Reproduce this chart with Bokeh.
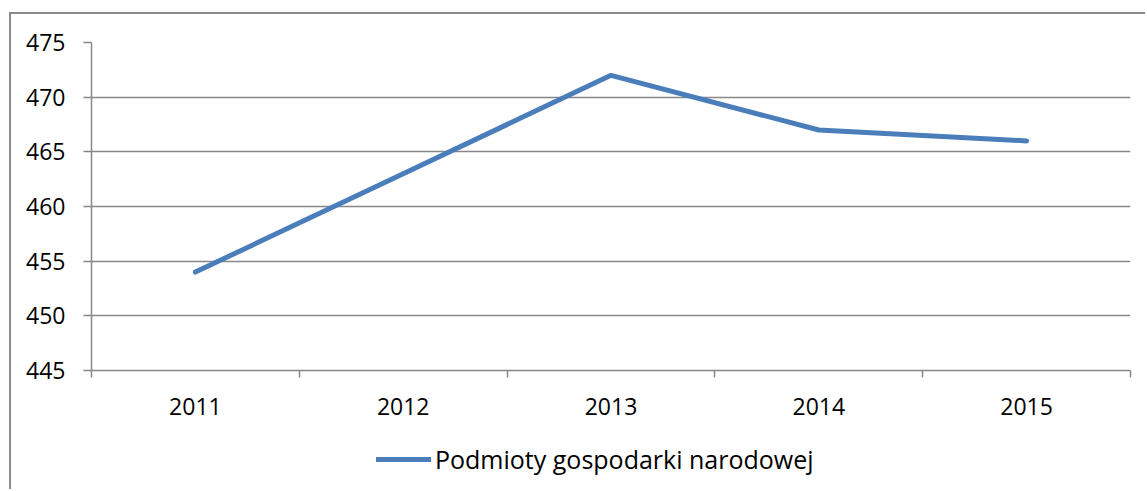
from bokeh.plotting import figure
from bokeh.layouts import column
from bokeh.models import FixedTicker, Legend, LegendItem, Range1d
from bokeh.embed import file_html
from bokeh.resources import INLINE

years = ["2011", "2012", "2013", "2014", "2015"]
values = [454, 463, 472, 467, 466]
series_name = "Podmioty gospodarki narodowej"
y_ticks = [445, 450, 455, 460, 465, 470, 475]

FONT = "Open Sans"
FS = "23px"
GRID = "#878787"
LINE = "#4a7ebb"
xs = list(range(1, len(years) + 1))

W = 1134
p = figure(width=W, height=420, output_backend="svg", toolbar_location=None,
           x_range=Range1d(0.5, len(years) + 0.5), y_range=Range1d(445, 475),
           min_border_left=80, min_border_top=28, min_border_right=15, min_border_bottom=64)
p.outline_line_color = None
p.background_fill_color = "white"
p.border_fill_color = "white"

p.line(xs, values, line_color=LINE, line_width=5, line_cap="round", line_join="round")

# x axis
p.xaxis.ticker = FixedTicker(ticks=xs, minor_ticks=[x - 0.5 for x in xs] + [len(xs) + 0.5])
p.xaxis.major_label_overrides = {x: y for x, y in zip(xs, years)}
p.xaxis.major_tick_line_color = None
p.xaxis.minor_tick_out = 7
p.xaxis.minor_tick_in = 0
p.xaxis.minor_tick_line_color = GRID
p.xaxis.minor_tick_line_width = 1.5
p.xaxis.axis_line_color = GRID
p.xaxis.axis_line_width = 1.5
p.xaxis.major_label_text_font = FONT
p.xaxis.major_label_text_font_size = FS
p.xaxis.major_label_text_color = "black"
p.xaxis.major_label_standoff = 20

# y axis
p.yaxis.ticker = FixedTicker(ticks=y_ticks, minor_ticks=[])
p.yaxis.major_tick_out = 8
p.yaxis.major_tick_in = 0
p.yaxis.major_tick_line_color = GRID
p.yaxis.major_tick_line_width = 1.5
p.yaxis.axis_line_color = GRID
p.yaxis.axis_line_width = 1.5
p.yaxis.minor_tick_line_color = None
p.yaxis.major_label_text_font = FONT
p.yaxis.major_label_text_font_size = FS
p.yaxis.major_label_text_color = "black"
p.yaxis.major_label_standoff = 18

p.xgrid.grid_line_color = None
p.ygrid.grid_line_color = GRID
p.ygrid.grid_line_width = 1.5
p.ygrid.ticker = FixedTicker(ticks=y_ticks)

# legend strip below the chart
LH = 55
q = figure(width=W, height=LH, output_backend="svg", toolbar_location=None,
           x_range=Range1d(0, W), y_range=Range1d(0, LH),
           x_axis_type=None, y_axis_type=None,
           min_border_left=0, min_border_right=0, min_border_top=0, min_border_bottom=0)
q.outline_line_color = None
q.grid.visible = False
q.background_fill_color = "white"
q.border_fill_color = "white"
lr = q.line(x=[float("nan")], y=[float("nan")], line_color=LINE, line_width=5, line_cap="round")

legend = Legend(items=[LegendItem(label=series_name, renderers=[lr])],
                location=(285, 13), orientation="horizontal",
                label_text_font=FONT, label_text_font_size="25px", label_text_color="black",
                glyph_width=55, glyph_height=20, label_standoff=4, padding=0, margin=0,
                border_line_color=None, background_fill_alpha=0)
q.add_layout(legend, "center")

layout = column(p, q, spacing=0)
layout.styles = {"border-left": "2px solid #8a8a8a", "border-top": "2px solid #8a8a8a",
                 "margin-top": "12px", "margin-left": "9px"}

open("out.html", "w").write(file_html(layout, INLINE))
